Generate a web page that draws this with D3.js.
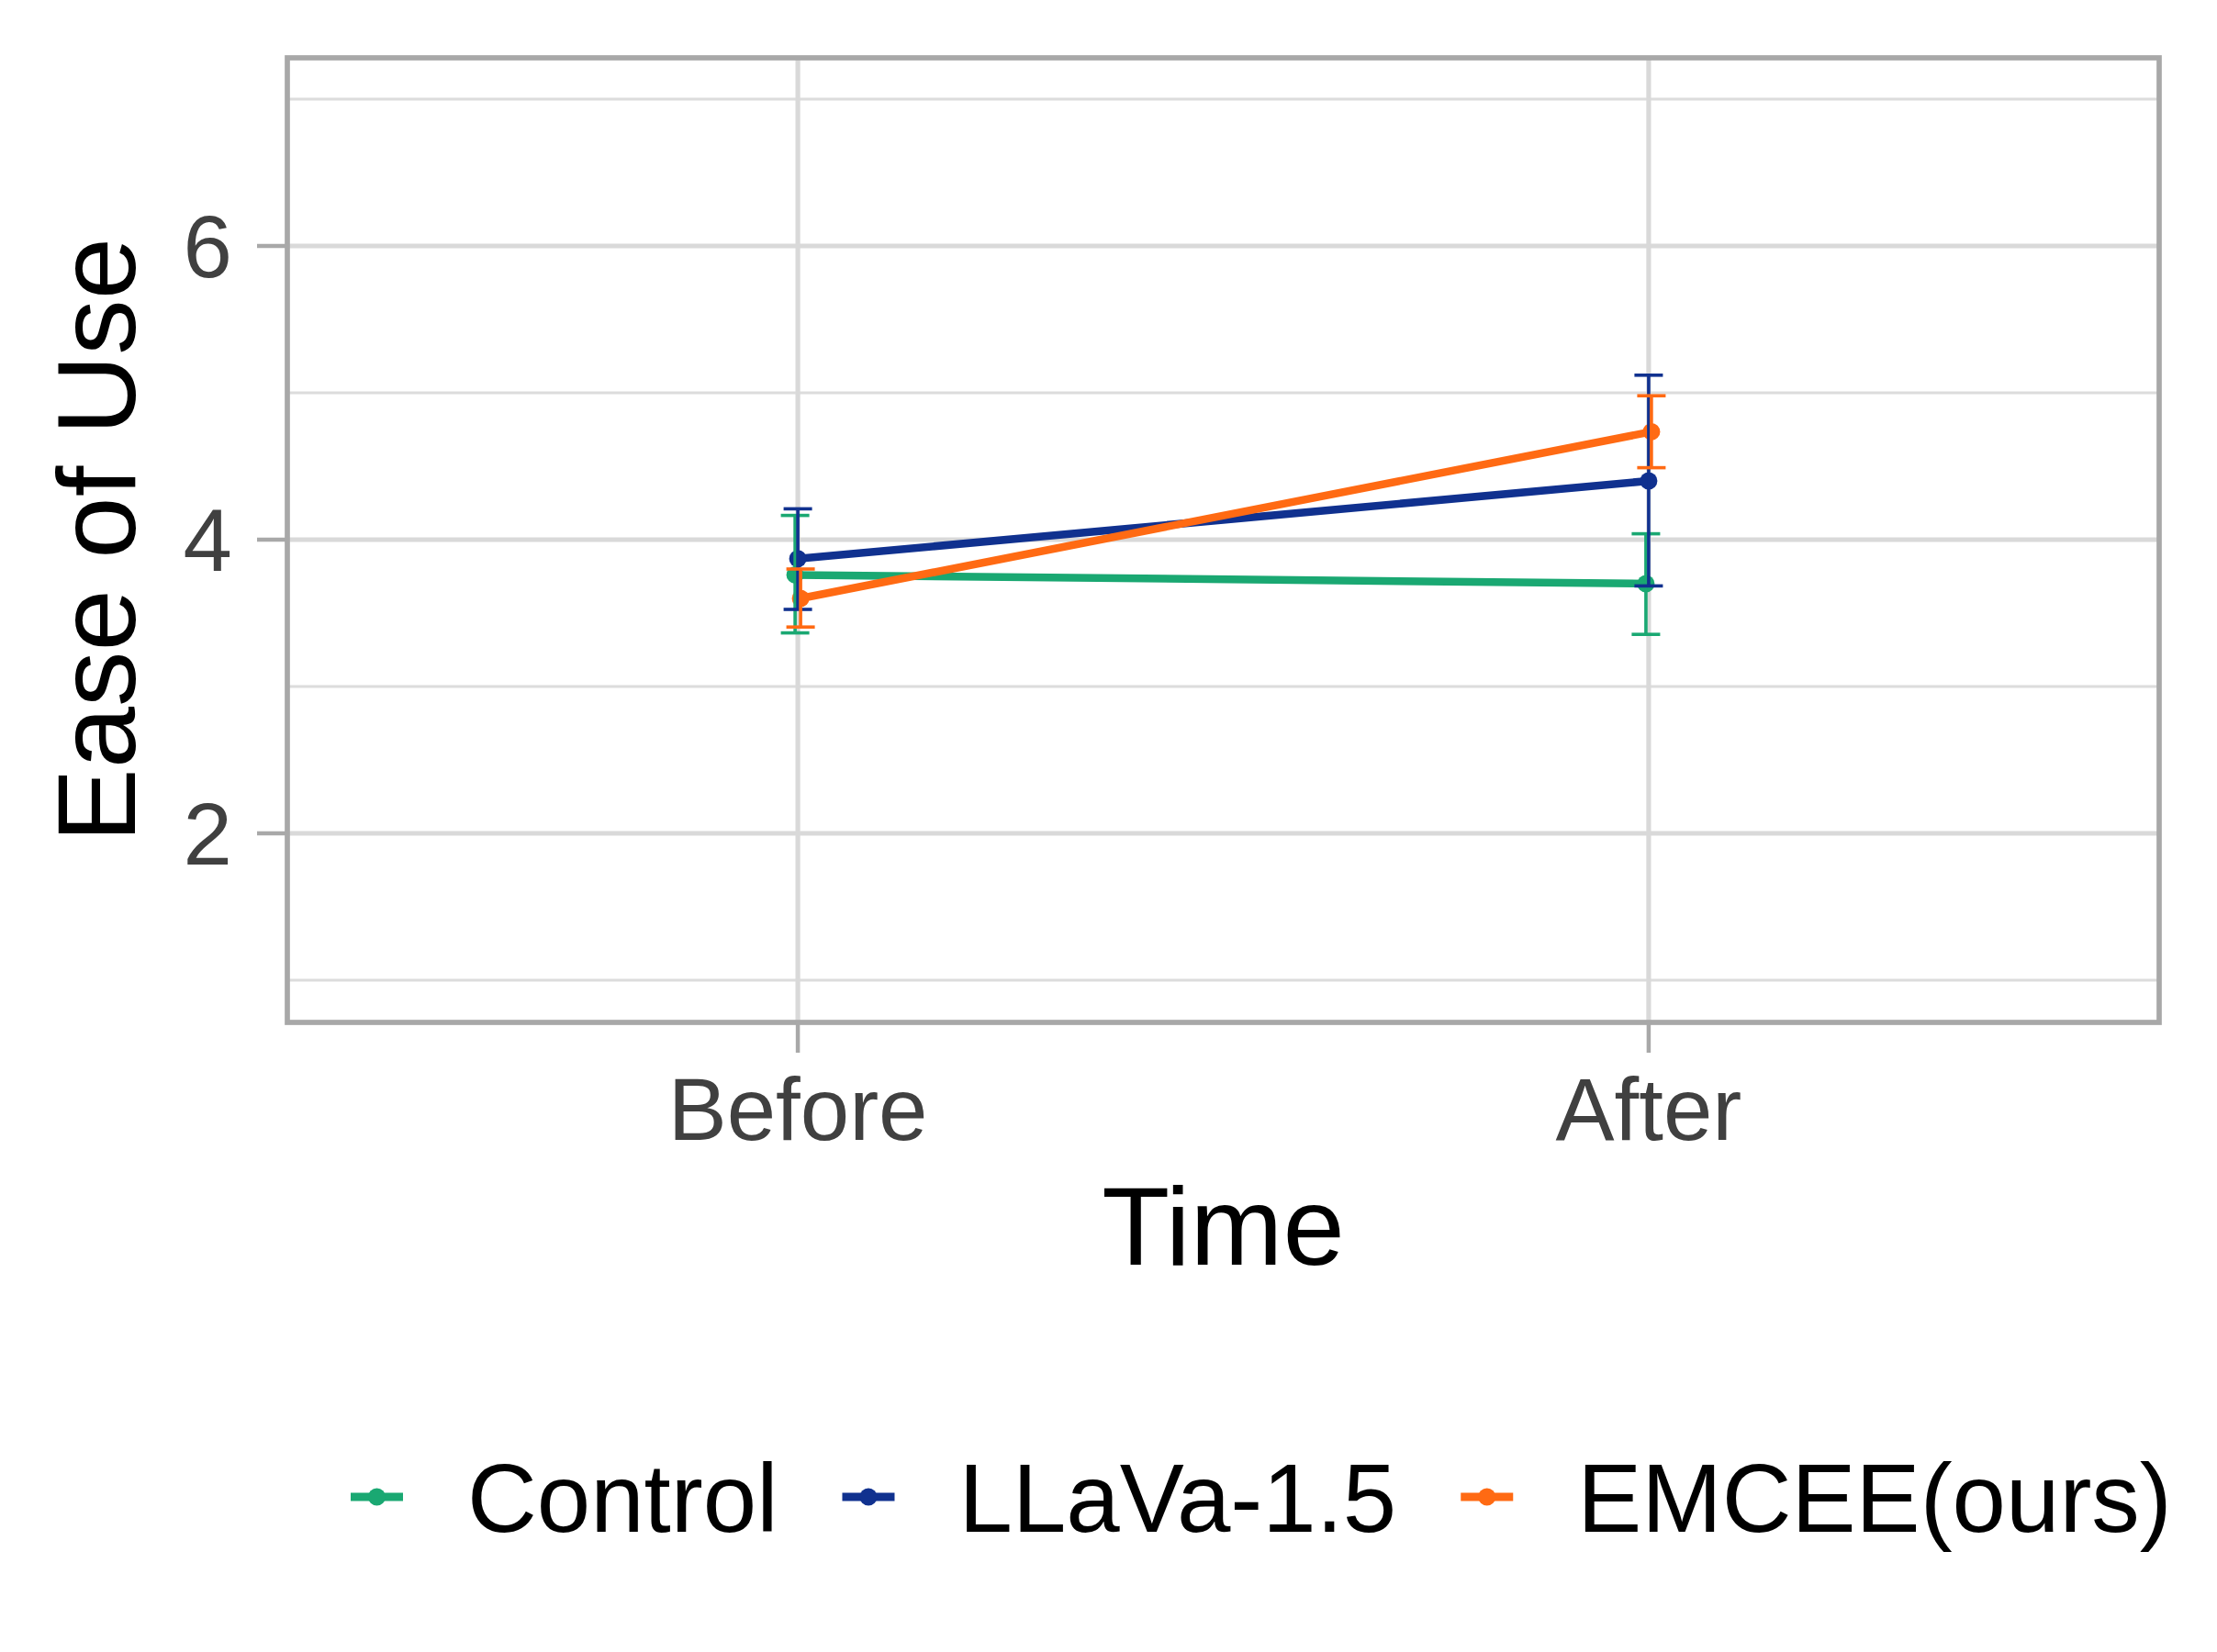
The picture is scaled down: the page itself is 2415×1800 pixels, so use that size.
<!DOCTYPE html>
<html>
<head>
<meta charset="utf-8">
<script src="https://cdn.jsdelivr.net/npm/d3@7"></script>
<style>
  body { margin: 0; background: #fff; }
  text { font-family: "Liberation Sans", Arial, sans-serif; }
</style>
</head>
<body>
<svg id="chart" width="2415" height="1800"></svg>
<script>
const groups = ["Control", "LLaVa-1.5", "EMCEE(ours)"];
const times = ["Before", "After"];
const colors = ["#1aa872", "#10318f", "#ff6a13"];

// mean and error bar ends, per group, [Before, After]
const meanControl = [3.76, 3.70];
const meanLlava = [3.87, 4.40];
const meanEmcee = [3.60, 4.735];
const upperControl = [4.165, 4.04];
const upperLlava = [4.21, 5.12];
const upperEmcee = [3.80, 4.98];
const lowerControl = [3.365, 3.355];
const lowerLlava = [3.525, 3.685];
const lowerEmcee = [3.405, 4.49];

const yTicks = [2, 4, 6];
const yMinor = [1, 3, 5, 7];

const means = [meanControl, meanLlava, meanEmcee];
const uppers = [upperControl, upperLlava, upperEmcee];
const lowers = [lowerControl, lowerLlava, lowerEmcee];

const svg = d3.select("#chart");
const panel = { left: 313, right: 2352, top: 63, bottom: 1114 };

const x = d3.scalePoint().domain(times).range([panel.left, panel.right]).padding(0.6);
const dodge = d3.scalePoint().domain(groups).range([-3, 3]);
const y = d3.scaleLinear().domain([0.7, 7.3]).range([1116, 60]);

const grid = svg.append("g");
grid.selectAll("line.minor").data(yMinor).enter().append("line")
    .attr("x1", panel.left).attr("x2", panel.right)
    .attr("y1", d => y(d)).attr("y2", d => y(d))
    .attr("stroke", "#dcdcdc").attr("stroke-width", 2.8);
grid.selectAll("line.major").data(yTicks).enter().append("line")
    .attr("x1", panel.left).attr("x2", panel.right)
    .attr("y1", d => y(d)).attr("y2", d => y(d))
    .attr("stroke", "#d9d9d9").attr("stroke-width", 5.2);
grid.selectAll("line.vmajor").data(times).enter().append("line")
    .attr("x1", d => x(d)).attr("x2", d => x(d))
    .attr("y1", panel.top).attr("y2", panel.bottom)
    .attr("stroke", "#d9d9d9").attr("stroke-width", 5.2);

const series = groups.map((g, i) => ({
  name: g, color: colors[i],
  pts: times.map((t, j) => ({ t: t, m: means[i][j], hi: uppers[i][j], lo: lowers[i][j] }))
}));

const px = (s, p) => x(p.t) + dodge(s.name);

const line = d3.line();
svg.append("g").selectAll("path").data(series).enter().append("path")
    .attr("d", s => line(s.pts.map(p => [px(s, p), y(p.m)])))
    .attr("fill", "none").attr("stroke", s => s.color).attr("stroke-width", 8.5);

const pts = svg.append("g");
series.forEach(s => {
  pts.selectAll(null).data(s.pts).enter().append("circle")
     .attr("cx", p => px(s, p)).attr("cy", p => y(p.m)).attr("r", 9.5)
     .attr("fill", s.color);
});

const capHalf = 15.5;
const bars = svg.append("g");
series.forEach(s => {
  const eb = bars.selectAll(null).data(s.pts).enter().append("g")
                 .attr("stroke", s.color).attr("stroke-width", 3.6);
  eb.append("line").attr("x1", p => px(s, p)).attr("x2", p => px(s, p))
    .attr("y1", p => y(p.hi)).attr("y2", p => y(p.lo));
  eb.append("line").attr("x1", p => px(s, p) - capHalf).attr("x2", p => px(s, p) + capHalf)
    .attr("y1", p => y(p.hi)).attr("y2", p => y(p.hi));
  eb.append("line").attr("x1", p => px(s, p) - capHalf).attr("x2", p => px(s, p) + capHalf)
    .attr("y1", p => y(p.lo)).attr("y2", p => y(p.lo));
});

// panel border
svg.append("rect")
   .attr("x", panel.left).attr("y", panel.top)
   .attr("width", panel.right - panel.left).attr("height", panel.bottom - panel.top)
   .attr("fill", "none").attr("stroke", "#a8a8a8").attr("stroke-width", 5.7);

// y axis
const yAxis = svg.append("g");
yAxis.selectAll("line").data(yTicks).enter().append("line")
     .attr("x1", 280).attr("x2", panel.left).attr("y1", d => y(d)).attr("y2", d => y(d))
     .attr("stroke", "#a8a8a8").attr("stroke-width", 4.5);
yAxis.selectAll("text").data(yTicks).enter().append("text")
     .attr("x", 253).attr("y", d => y(d) + 34)
     .attr("text-anchor", "end").attr("font-size", 96).attr("fill", "#404040")
     .text(d => d);

// x axis
const xAxis = svg.append("g");
xAxis.selectAll("line").data(times).enter().append("line")
     .attr("x1", d => x(d)).attr("x2", d => x(d)).attr("y1", panel.bottom).attr("y2", 1147)
     .attr("stroke", "#a8a8a8").attr("stroke-width", 4.5);
xAxis.selectAll("text").data(times).enter().append("text")
     .attr("x", d => x(d)).attr("y", 1242)
     .attr("text-anchor", "middle").attr("font-size", 96).attr("fill", "#404040")
     .text(d => d);

svg.append("text").attr("x", (panel.left + panel.right) / 2).attr("y", 1378)
   .attr("text-anchor", "middle").attr("font-size", 121).attr("fill", "#000")
   .text("Time");
svg.append("text").attr("transform", `translate(147, ${(panel.top + panel.bottom) / 2}) rotate(-90)`)
   .attr("text-anchor", "middle").attr("font-size", 121).attr("fill", "#000")
   .text("Ease of Use");

// legend
const legend = svg.append("g");
let lx = 382;
const ly = 1631;
series.forEach(s => {
  const item = legend.append("g").attr("transform", `translate(${lx}, ${ly})`);
  item.append("line").attr("x1", 0).attr("x2", 57).attr("y1", 0).attr("y2", 0)
      .attr("stroke", s.color).attr("stroke-width", 9);
  item.append("circle").attr("cx", 28.5).attr("cy", 0).attr("r", 9.5).attr("fill", s.color);
  const t = item.append("text").attr("x", 127).attr("y", 38)
      .attr("font-size", 105).attr("fill", "#000").text(s.name);
  lx += 127 + t.node().getComputedTextLength() + 70;
});
</script>
</body>
</html>
